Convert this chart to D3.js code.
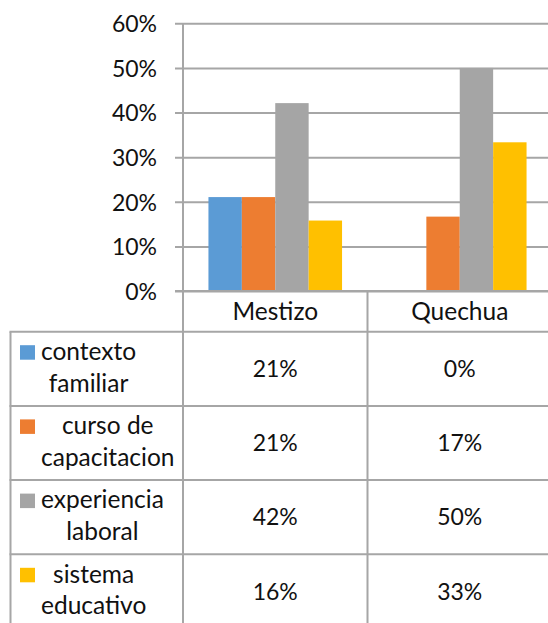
<!DOCTYPE html>
<html><head><meta charset="utf-8">
<script src="https://cdn.jsdelivr.net/npm/d3@7"></script>
<style>
html,body{margin:0;padding:0;background:#fff;overflow:hidden}
svg{display:block}
text{font-family:"Lato","Open Sans",sans-serif;fill:#111}
</style></head><body>
<svg id="c" width="548" height="623"></svg>
<script>
const categories = ["Mestizo", "Quechua"];
const seriesNames = ["contexto familiar", "curso de capacitacion", "experiencia laboral", "sistema educativo"];
const seriesLines = [["contexto", "familiar"], ["curso de", "capacitacion"], ["experiencia", "laboral"], ["sistema", "educativo"]];
const mestizoValues = [0.2105, 0.2105, 0.4211, 0.1579];
const quechuaValues = [0, 0.1667, 0.5, 0.3333];
const tableLabels = [["21%", "0%"], ["21%", "17%"], ["42%", "50%"], ["16%", "33%"]];
const yTicks = [0, 0.1, 0.2, 0.3, 0.4, 0.5, 0.6];
const colors = ["#5B9BD5", "#ED7D31", "#A5A5A5", "#FFC000"];

(function () {
const values = [mestizoValues, quechuaValues];
const svg = d3.select("#c");
const fs = 23;      // numbers
const fsW = 24.5;   // words
const lineCol = "#a6a6a6";

const pLeft = 183, pRight = 552, pTop = 23.3, base = 291;
const y = d3.scaleLinear().domain([0, 0.6]).range([base, pTop]);
const x0 = d3.scaleBand().domain(categories).range([pLeft, pRight]);
const x1 = d3.scaleBand().domain(seriesNames).range([0, x0.bandwidth()]).paddingInner(0).paddingOuter(0.762);

// gridlines + ticks
const yAxis = d3.axisLeft(y).tickValues(yTicks).tickFormat(d3.format(".0%")).tickSize(-(pRight - pLeft)).tickPadding(0);
const gA = svg.append("g").attr("transform", `translate(${pLeft},0)`).call(yAxis);
gA.select(".domain").remove();
gA.selectAll(".tick line").attr("stroke", lineCol).attr("stroke-width", 2).attr("x1", -8);
gA.selectAll(".tick text").attr("x", -26).attr("dy", "0.36em").attr("font-size", fs).style("font-family", "Lato").attr("fill", "#111");

// bars
categories.forEach((c, ci) => {
  svg.append("g").selectAll("rect").data(seriesNames).join("rect")
    .attr("x", s => x0(c) + x1(s))
    .attr("width", x1.bandwidth())
    .attr("y", (s, si) => y(values[ci][si]))
    .attr("height", (s, si) => base - y(values[ci][si]))
    .attr("fill", (s, si) => colors[si]);
});

// baseline above bars
svg.append("line").attr("x1", pLeft - 8).attr("x2", pRight).attr("y1", y(0)).attr("y2", y(0)).attr("stroke", lineCol).attr("stroke-width", 2);

// table
const tableLeft = 10.5, headerTop = base, headerBottom = 331.7, rowH = 74.2;
const rowTop = i => headerBottom + i * rowH;
const T = svg.append("g");
T.append("line").attr("x1", pLeft).attr("x2", pLeft).attr("y1", pTop).attr("y2", 623).attr("stroke", lineCol).attr("stroke-width", 2);
T.append("line").attr("x1", x0("Quechua")).attr("x2", x0("Quechua")).attr("y1", base).attr("y2", 623).attr("stroke", lineCol).attr("stroke-width", 2);
T.append("line").attr("x1", tableLeft).attr("x2", tableLeft).attr("y1", headerBottom).attr("y2", 623).attr("stroke", lineCol).attr("stroke-width", 2);
for (let i = 0; i < 4; i++) {
  T.append("line").attr("x1", tableLeft - 1).attr("x2", pRight).attr("y1", rowTop(i)).attr("y2", rowTop(i)).attr("stroke", lineCol).attr("stroke-width", 2);
}
categories.forEach(c => {
  T.append("text").attr("x", x0(c) + x0.bandwidth() / 2).attr("y", (headerTop + headerBottom) / 2).attr("dy", "0.36em")
    .attr("text-anchor", "middle").attr("font-size", fsW).text(c);
});
seriesNames.forEach((s, si) => {
  const t0 = rowTop(si);
  T.append("rect").attr("x", 20).attr("y", t0 + 13.5).attr("width", 15).attr("height", 14.5).attr("fill", colors[si]);
  const lines = seriesLines[si];
  const g = T.append("g");
  const texts = lines.map((l, li) => g.append("text").attr("y", t0 + 28.3 + li * 31.7).attr("font-size", fsW).attr("text-anchor", "middle").text(l));
  const w = d3.max(texts, t => t.node().getComputedTextLength());
  texts.forEach(t => t.attr("x", 41 + w / 2));
  categories.forEach((c, ci) => {
    T.append("text").attr("x", x0(c) + x0.bandwidth() / 2).attr("y", t0 + rowH / 2).attr("dy", "0.36em")
      .attr("text-anchor", "middle").attr("font-size", fs).text(tableLabels[si][ci]);
  });
});
})();
</script>
</body></html>
